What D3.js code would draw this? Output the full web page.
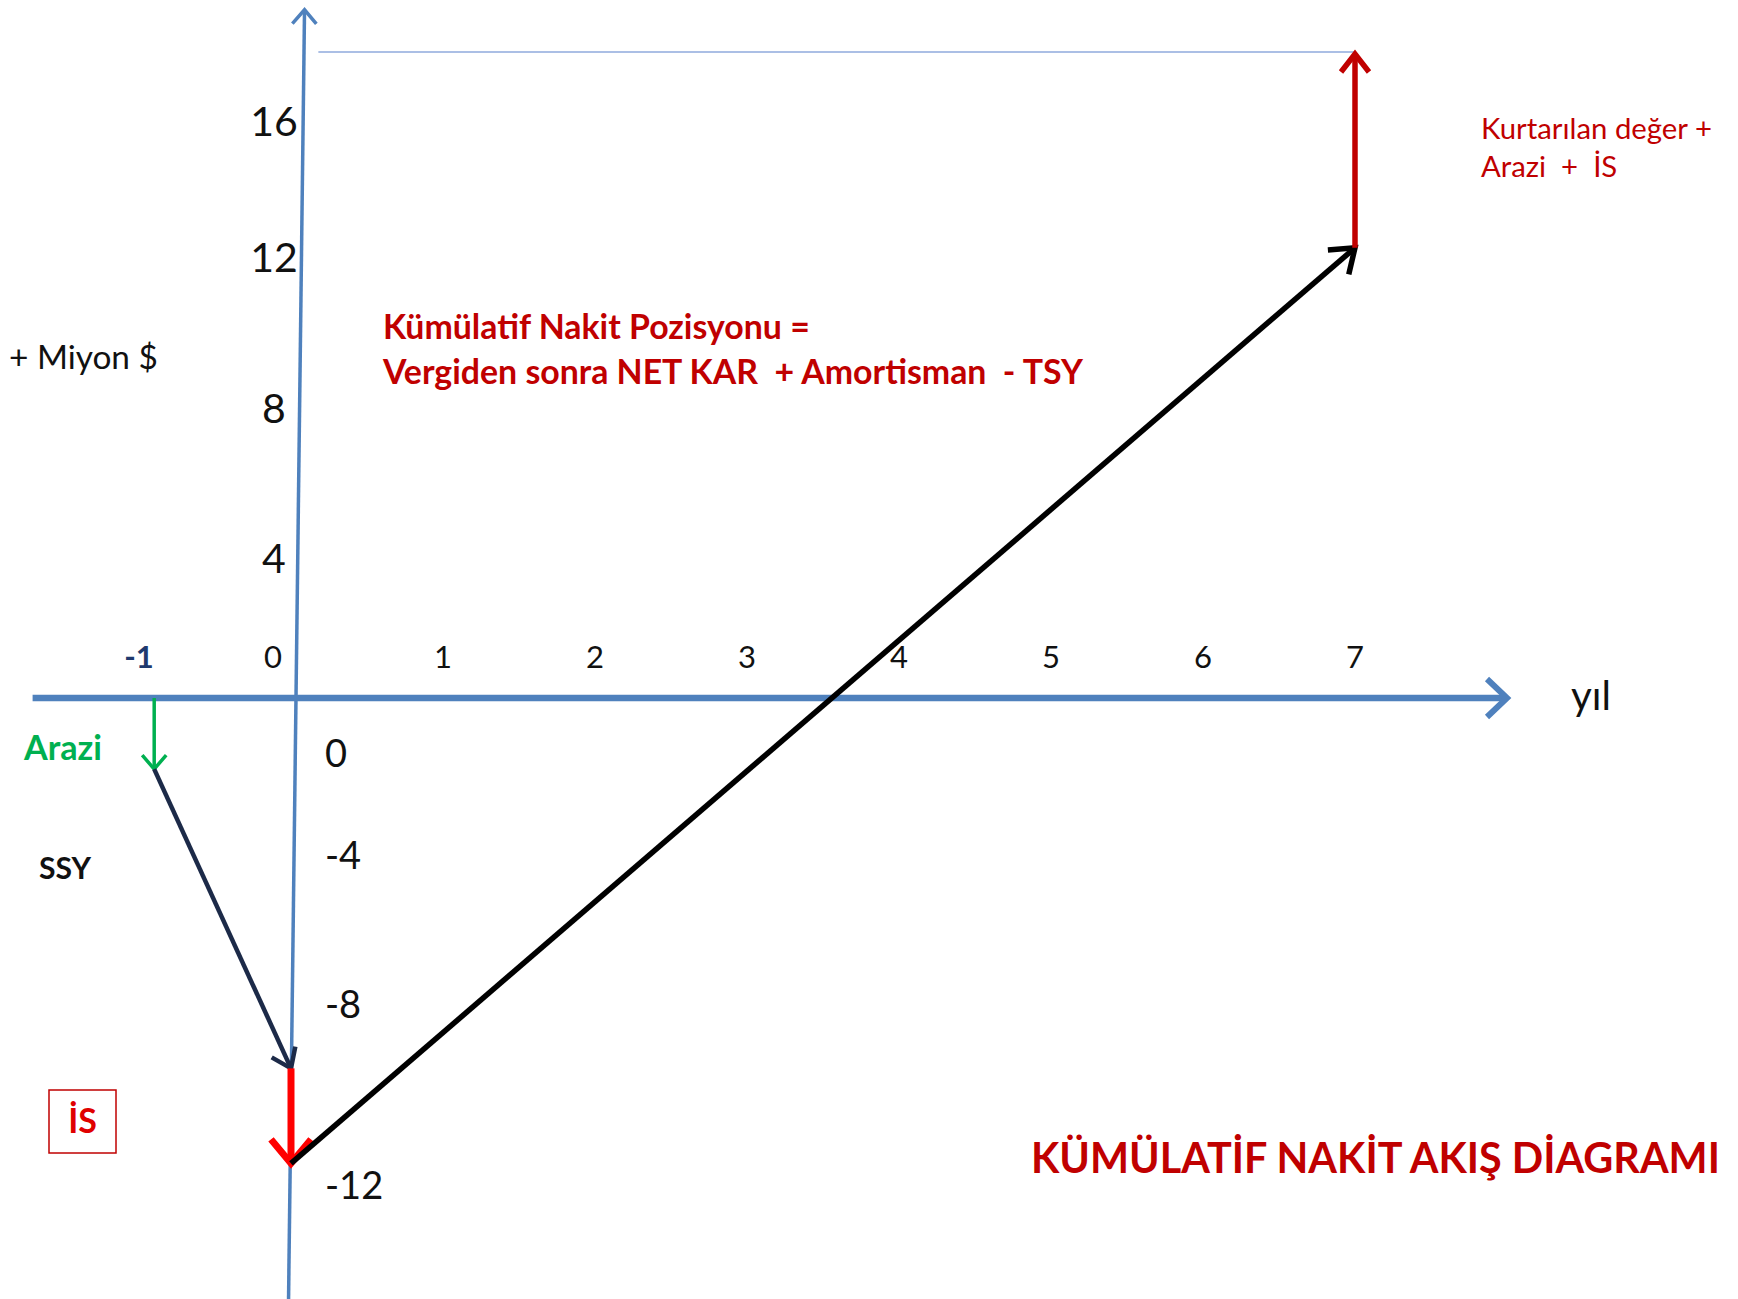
<!DOCTYPE html>
<html>
<head>
<meta charset="utf-8">
<script src="https://cdn.jsdelivr.net/npm/d3@7"></script>
<style>
  body { margin: 0; background: #fff; }
  svg { display: block; }
  text { font-family: Lato, "Open Sans", sans-serif; }
</style>
</head>
<body>
<script>
// tick labels
const xTicks = [-1, 0, 1, 2, 3, 4, 5, 6, 7];
const yTicksUp = [16, 12, 8, 4];
const yTicksDown = [-4, -8, -12];

// cumulative cash position after each step (year, million $)
const flowYears = [-0.9, -0.9, 0, 0, 7, 7];
const flowValues = [0, -1.8, -9.4, -11.5, 12.3, 18];
const flowNames = ["Arazi", "SSY", "İS", "Kümülatif", "Kurtarılan"];

const width = 1738;
const height = 1299;

// colours / stroke per step (same order as flowNames)
const flowStyle = [
  { color: "#00b050", w: 3.5, len: 14, half: 12 },
  { color: "#1c2a48", w: 4.5, len: 18, half: 13 },
  { color: "#ff0000", w: 7, len: 24, half: 20 },
  { color: "#000000", w: 5.5, len: 22, half: 16 },
  { color: "#c00000", w: 5.5, len: 18, half: 14 }
];
const axisBlue = "#4f81bd";

const x = d3.scaleLinear()
  .domain([0, 7])
  .range([291, 1355]);

// the axis is hand drawn: tick gaps are uneven, so the scale passes through each tick
const y = d3.scaleLinear()
  .domain([-12, -8, -4, 0, 4, 8, 12, 16])
  .range([1186, 1005, 856, 698, 559, 409, 258, 122]);

const svg = d3.create("svg")
  .attr("width", width)
  .attr("height", height);
// attach first so text can be measured
document.body.appendChild(svg.node());

const defs = svg.append("defs");
function chevron(id, color, len, half, sw) {
  defs.append("marker")
    .attr("id", id)
    .attr("markerUnits", "userSpaceOnUse")
    .attr("orient", "auto")
    .attr("markerWidth", 1).attr("markerHeight", 1)
    .attr("refX", 0).attr("refY", 0)
    .style("overflow", "visible")
    .append("path")
    .attr("d", `M${-len},${-half}L0,0L${-len},${half}`)
    .attr("fill", "none")
    .attr("stroke", color)
    .attr("stroke-width", sw)
    .attr("stroke-linejoin", "miter");
}

// y axis (slightly tilted like the original slide)
const tilt = 0.0124;
const axisX = v => x(0) + 5 + (y(0) - y(v)) * tilt;
chevron("yhead", axisBlue, 14, 12, 3.5);
svg.append("line")
  .attr("x1", axisX(-14.5)).attr("y1", y(-14.5))
  .attr("x2", axisX(19.3)).attr("y2", y(19.3))
  .attr("stroke", axisBlue)
  .attr("stroke-width", 3.5)
  .attr("marker-end", "url(#yhead)");

// x axis
chevron("xhead", axisBlue, 20, 19, 6);
svg.append("line")
  .attr("x1", x(-1.7)).attr("y1", y(0))
  .attr("x2", x(8)).attr("y2", y(0))
  .attr("stroke", axisBlue)
  .attr("stroke-width", 6.5)
  .attr("marker-end", "url(#xhead)");

// reference line at the final value
svg.append("line")
  .attr("x1", x(0.18)).attr("y1", y(flowValues[5]) - 2)
  .attr("x2", x(7)).attr("y2", y(flowValues[5]) - 2)
  .attr("stroke", "#8faadc")
  .attr("stroke-width", 1.5);

// x tick labels
svg.append("g")
  .selectAll("text")
  .data(xTicks)
  .join("text")
  .attr("x", d => d === 0 ? x(d) - 18 : x(d))
  .attr("y", y(0) - 41)
  .attr("dy", "0.35em")
  .attr("text-anchor", "middle")
  .attr("font-size", 31)
  .attr("font-weight", d => d < 0 ? "bold" : "normal")
  .attr("fill", d => d < 0 ? "#1f3a6e" : "#111")
  .text(d => d);

// y tick labels above the axis
svg.append("g")
  .selectAll("text")
  .data(yTicksUp)
  .join("text")
  .attr("x", x(0) - 17)
  .attr("y", d => y(d))
  .attr("dy", "0.35em")
  .attr("text-anchor", "middle")
  .attr("font-size", 41)
  .attr("fill", "#111")
  .text(d => d);

// y tick labels below the axis (zero sits under the axis)
svg.append("g")
  .selectAll("text")
  .data([0, ...yTicksDown])
  .join("text")
  .attr("x", x(0) + 34)
  .attr("y", d => d === 0 ? y(0) + 56 : y(d))
  .attr("dy", "0.35em")
  .attr("font-size", 38)
  .attr("fill", "#111")
  .text(d => d);

// cash flow arrows
const steps = d3.range(flowNames.length).map(i => ({
  name: flowNames[i],
  x1: flowYears[i], y1: flowValues[i],
  x2: flowYears[i + 1], y2: flowValues[i + 1],
  s: flowStyle[i]
}));
steps.forEach((d, i) => chevron("head" + i, d.s.color, d.s.len, d.s.half, d.s.w));
svg.append("g")
  .selectAll("line")
  .data(steps)
  .join("line")
  .attr("x1", d => x(d.x1)).attr("y1", d => y(d.y1))
  .attr("x2", d => x(d.x2)).attr("y2", d => y(d.y2))
  .attr("stroke", d => d.s.color)
  .attr("stroke-width", d => d.s.w)
  .attr("marker-end", (d, i) => `url(#head${i})`);

// annotations
function fitWidth(t, w) {
  const len = t.node().getComputedTextLength();
  t.attr("font-size", parseFloat(t.attr("font-size")) * w / len);
  return parseFloat(t.attr("font-size"));
}
function label(px, py, txt, opts) {
  return svg.append("text")
    .attr("x", px).attr("y", py)
    .attr("dy", "0.35em")
    .attr("font-size", opts.size || 30)
    .attr("font-weight", opts.bold ? "bold" : "normal")
    .attr("fill", opts.color || "#111")
    .style("white-space", "pre")
    .text(txt);
}

const miyon = label(9, 357, "+ Miyon $", {});
fitWidth(miyon, 149);

const f2 = label(383, 372, "Vergiden sonra NET KAR  + Amortisman  - TSY", { bold: true, color: "#c00000" });
const fs = fitWidth(f2, 700);
label(383, 327, "Kümülatif Nakit Pozisyonu =", { bold: true, color: "#c00000", size: fs });

const k1 = label(1481, 129, "Kurtarılan değer +", { color: "#c00000" });
const ks = fitWidth(k1, 231);
label(1481, 167, "Arazi  +  İS", { color: "#c00000", size: ks });

const ar = label(24, 748, "Arazi", { bold: true, color: "#00b050" });
fitWidth(ar, 78);
const ss = label(39, 868, "SSY", { bold: true });
fitWidth(ss, 52);

svg.append("rect")
  .attr("x", 49).attr("y", 1090)
  .attr("width", 67).attr("height", 63)
  .attr("fill", "none")
  .attr("stroke", "#c00000")
  .attr("stroke-width", 1.5);
label(82.5, 1121, "İS", { bold: true, color: "#e00000", size: 34 })
  .attr("text-anchor", "middle");

const yil = label(1571, 696, "yıl", { size: 44 });
fitWidth(yil, 40);

const title = label(1031, 1159, "KÜMÜLATİF NAKİT AKIŞ DİAGRAMI", { bold: true, color: "#c00000" });
fitWidth(title, 689);
</script>
</body>
</html>
